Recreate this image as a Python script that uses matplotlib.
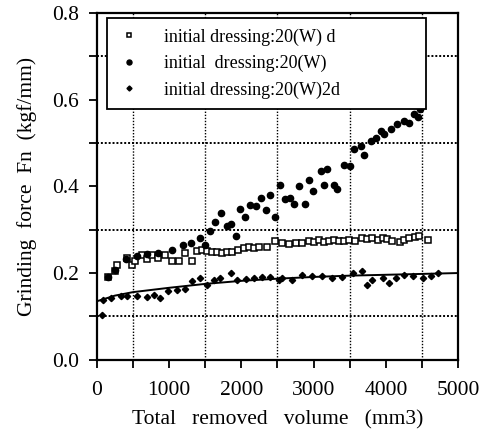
import matplotlib
matplotlib.use('Agg')
import matplotlib.pyplot as plt
from matplotlib.ticker import MultipleLocator

plt.rcParams['font.family'] = ['Liberation Serif', 'DejaVu Serif']

# initial dressing:20(W) d  (open squares)
sq_x = [157, 250, 273, 412, 482, 530, 620, 700, 760, 850, 945, 1037, 1130, 1220,
        1315, 1380, 1453, 1520, 1590, 1660, 1730, 1800, 1870, 1960, 2030, 2100,
        2170, 2240, 2350, 2470, 2565, 2660, 2750, 2840, 2935, 3000, 3070, 3140,
        3210, 3280, 3350, 3420, 3490, 3580, 3675, 3745, 3815, 3885, 3955, 4020,
        4090, 4190, 4250, 4320, 4400, 4465, 4580]
sq_y = [0.192, 0.204, 0.219, 0.235, 0.219, 0.228, 0.242, 0.232, 0.242, 0.235, 0.242,
        0.227, 0.227, 0.247, 0.227, 0.250, 0.254, 0.250, 0.248, 0.248, 0.247, 0.248,
        0.248, 0.254, 0.258, 0.260, 0.257, 0.259, 0.261, 0.273, 0.270, 0.268, 0.270,
        0.270, 0.273, 0.271, 0.277, 0.272, 0.273, 0.276, 0.273, 0.275, 0.277, 0.274,
        0.281, 0.278, 0.280, 0.276, 0.280, 0.278, 0.273, 0.271, 0.276, 0.280, 0.283,
        0.286, 0.276]

# initial dressing:20(W)  (filled circles)
ci_x = [157, 250, 400, 550, 700, 850, 1037, 1190, 1300, 1430, 1490, 1570, 1640,
        1720, 1800, 1850, 1920, 1980, 2055, 2125, 2200, 2265, 2335, 2390, 2470,
        2540, 2610, 2680, 2725, 2795, 2875, 2935, 2995, 3100, 3145, 3190, 3285,
        3330, 3420, 3505, 3560, 3650, 3700, 3790, 3860, 3930, 3980, 4070, 4160,
        4255, 4325, 4390, 4440, 4480]
ci_y = [0.192, 0.208, 0.232, 0.240, 0.245, 0.246, 0.254, 0.265, 0.270, 0.281,
        0.265, 0.296, 0.317, 0.339, 0.308, 0.313, 0.285, 0.348, 0.330, 0.358,
        0.354, 0.373, 0.345, 0.379, 0.329, 0.404, 0.370, 0.374, 0.360, 0.400,
        0.360, 0.414, 0.389, 0.435, 0.404, 0.439, 0.404, 0.393, 0.450, 0.446,
        0.485, 0.493, 0.473, 0.504, 0.512, 0.527, 0.520, 0.531, 0.543, 0.550,
        0.547, 0.566, 0.560, 0.578]

# initial dressing:20(W)2d  (small diamonds)
di_x = [65, 85, 200, 340, 420, 560, 700, 790, 880, 990, 1107, 1220, 1315, 1430,
        1523, 1620, 1710, 1850, 1940, 2060, 2170, 2290, 2400, 2520, 2560, 2700,
        2840, 2980, 3120, 3260, 3395, 3540, 3675, 3745, 3815, 3955, 4050, 4140,
        4250, 4370, 4510, 4625, 4720]
di_y = [0.104, 0.139, 0.142, 0.146, 0.146, 0.148, 0.145, 0.150, 0.142, 0.158,
        0.160, 0.163, 0.181, 0.189, 0.173, 0.185, 0.189, 0.199, 0.185, 0.186,
        0.189, 0.191, 0.190, 0.185, 0.189, 0.185, 0.196, 0.193, 0.194, 0.189,
        0.191, 0.200, 0.204, 0.173, 0.185, 0.189, 0.177, 0.189, 0.196, 0.193,
        0.189, 0.193, 0.199]

# fitted curve through the 20(W)2d data
fit_x = [0, 250, 500, 1000, 1500, 2000, 2500, 3000, 3500, 4000, 4500, 5000]
fit_y = [0.135, 0.148, 0.156, 0.166, 0.175, 0.182, 0.187, 0.191, 0.194, 0.196, 0.198, 0.200]

labels = ['initial dressing:20(W) d', 'initial  dressing:20(W)', 'initial dressing:20(W)2d']

fig = plt.figure(figsize=(4.92, 4.42), dpi=100)
ax = fig.add_axes([0.197, 0.186, 0.734, 0.785])

ax.plot(fit_x, fit_y, color='black', lw=1.4, zorder=2)
ax.plot(sq_x, sq_y, ls='none', marker='s', ms=4, mfc='white', mec='black', mew=1.1,
        label=labels[0], zorder=3)
ax.plot(ci_x, ci_y, ls='none', marker='o', ms=4.5, color='black', label=labels[1], zorder=3)
ax.plot(di_x, di_y, ls='none', marker='D', ms=3.2, color='black', label=labels[2], zorder=3)

# dotted grid on the odd 500s / odd 0.1s
for gx in [500, 1500, 2500, 3500, 4500]:
    ax.axvline(gx, color='black', ls=(0, (1, 1.2)), lw=1.0, zorder=1)
for gy in [0.1, 0.3, 0.5, 0.7]:
    ax.axhline(gy, color='black', ls=(0, (1, 1)), lw=1.4, zorder=1)

ax.set_xlim(0, 5000)
ax.set_ylim(0, 0.8)
ax.xaxis.set_major_locator(MultipleLocator(1000))
ax.xaxis.set_minor_locator(MultipleLocator(500))
ax.yaxis.set_major_locator(MultipleLocator(0.2))
ax.yaxis.set_minor_locator(MultipleLocator(0.1))
ax.yaxis.set_major_formatter(plt.FuncFormatter(lambda v, p: f'{v:.1f}'))
ax.tick_params(which='both', direction='out', length=6, width=1.3, labelsize=15.5)
ax.tick_params(axis='x', pad=9)
ax.tick_params(axis='y', pad=7)

for s in ax.spines.values():
    s.set_linewidth(1.6)

ax.set_xlabel('Total   removed   volume   (mm3)', fontsize=15.5, labelpad=8)
ax.set_ylabel('Grinding  force  Fn  (kgf/mm)', fontsize=15.5, labelpad=11)

leg = ax.legend(loc='upper left', bbox_to_anchor=(0.028, 0.712, 0.883, 0.274),
                mode='expand', fontsize=13,
                frameon=True, fancybox=False, edgecolor='black', framealpha=1,
                handlelength=1.2, handletextpad=1.35, labelspacing=0.5,
                borderpad=0.6, borderaxespad=0, markerscale=0.8)
leg.get_frame().set_linewidth(1.3)

fig.savefig('out.png', dpi=100)
